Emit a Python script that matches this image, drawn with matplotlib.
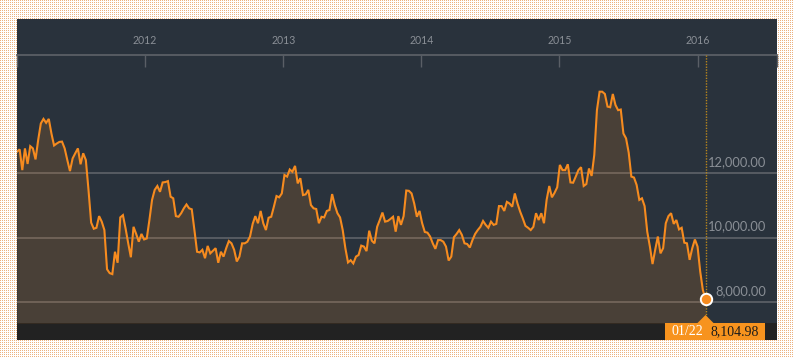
import matplotlib
matplotlib.use('Agg')
import matplotlib.pyplot as plt
import matplotlib.dates as mdates
import matplotlib.transforms as mtransforms
from matplotlib.patches import Rectangle, Polygon
import numpy as np
import pandas as pd

# Weekly closes (Fridays)
vals_2011 = [12650, 12720, 12080, 12750, 12270, 12820, 12750, 12410, 13010, 13520,
             13660, 13540, 13660, 13210, 12840, 12900, 12950, 12960, 12750, 12390,
             12050, 12440, 12600, 12750, 12260, 12600, 12390, 11470, 10460, 10270,
             10300, 10660, 10490, 10230, 9020, 8900, 8870, 9560, 9220, 10620,
             10690, 10280, 9820, 9390, 10330, 10110, 9870, 10110, 9940]
vals_2012 = [9970, 10540, 11160, 11470, 11590, 11410, 11700, 11710, 11740, 11260,
             11210, 10660, 10640, 10750, 10900, 11020, 10900, 10870, 10230, 9560,
             9540, 9620, 9360, 9740, 9510, 9590, 9670, 9220, 9560, 9410,
             9670, 9890, 9820, 9620, 9260, 9410, 9820, 9820, 9870, 10030,
             10420, 10660, 10440, 10820, 10440, 10230, 10610, 10640, 10950, 11280,
             11240, 11360]
vals_2013 = [11930, 11880, 12100, 12030, 12210, 11670, 11830, 11310, 11330, 11470,
             11000, 10900, 10880, 10440, 10640, 10620, 10820, 10850, 11340, 11000,
             10750, 10620, 10230, 9670, 9230, 9300, 9200, 9410, 9460, 9750,
             9720, 9580, 10210, 9900, 9820, 10330, 10540, 10770, 10490, 10510,
             10570, 10640, 10180, 10660, 10390, 10660, 11450, 11440, 11360, 11050,
             10640, 10820]
vals_2014 = [10440, 10170, 10150, 10030, 9820, 9650, 9920, 9920, 9870, 9720,
             9290, 9410, 10010, 10110, 10230, 10080, 9820, 9800, 9690, 9920,
             10110, 10230, 10330, 10510, 10390, 10300, 10490, 10390, 10420, 10970,
             10970, 10820, 11100, 11050, 10950, 11360, 11050, 10800, 10590, 10360,
             10300, 10230, 10330, 10750, 10540, 10750, 10440, 11160, 11590, 11240,
             11380, 11550]
vals_2015 = [12240, 12080, 12080, 12260, 11700, 11690, 11880, 12080, 12170, 11590,
             11650, 12130, 11900, 12550, 13930, 14500, 14500, 14430, 14040, 14020,
             14430, 14090, 13930, 13950, 13210, 13060, 12620, 11880, 11850, 11620,
             11160, 11210, 10970, 10180, 9720, 9180, 9620, 10030, 9510, 9670,
             10440, 10660, 10750, 10420, 10540, 10250, 10300, 9840, 9820, 9310,
             9670, 9940]
vals_2016 = [9720, 8950, 8380, 8104.98]

values = vals_2011 + vals_2012 + vals_2013 + vals_2014 + vals_2015 + vals_2016
dates = pd.date_range('2011-01-28', '2016-01-22', freq='W-FRI')

x_start = pd.Timestamp('2011-01-28')
x_end = pd.Timestamp('2016-07-29')
year_ticks = ['2012', '2013', '2014', '2015', '2016']
grid_levels = [8000, 10000, 12000]

# colours
bg = '#29323c'
orange = '#f68b1f'
grey_txt = '#8a8f96'
grid_col = '#5a5f66'

plt.rcParams['font.family'] = ['Lato', 'DejaVu Sans']

fig = plt.figure(figsize=(7.93, 3.58), dpi=100)
W, H = 793, 358

# dotted orange backdrop
tex = np.ones((H, W, 3))
tex[::2, ::2] = np.array([236, 178, 128]) / 255.0
fig.figimage(tex, 0, 0, zorder=-10)

# chart panel and bottom strip
fig.add_artist(Rectangle((17 / W, 18 / H), 760 / W, 321 / H, transform=fig.transFigure,
                         facecolor=bg, edgecolor='none', zorder=-5))
fig.add_artist(Rectangle((17 / W, 18 / H), 760 / W, 17 / H, transform=fig.transFigure,
                         facecolor='#222222', edgecolor='none', zorder=-4))

ax = fig.add_axes([17 / W, 35 / H, 760 / W, 268 / H])
ax.set_facecolor(bg)

ymin, ymax = 7361, 15633
ax.set_xlim(x_start, x_end)
ax.set_ylim(ymin, ymax)

# gridlines (under the fill so they tint brown inside it)
for lv in grid_levels:
    ax.axhline(lv, color=grid_col, linewidth=1.3, zorder=1)
    ax.annotate(f'{lv:,.2f}', xy=(0.9855, lv), xycoords=('axes fraction', 'data'),
                xytext=(0, 5), textcoords='offset points', ha='right', va='baseline',
                fontsize=9.3, color=grey_txt, zorder=6)

ax.fill_between(dates, values, ymin, color=orange, alpha=0.16, linewidth=0, zorder=2)
ax.plot(dates, values, color=orange, linewidth=1.5, zorder=3, solid_joinstyle='miter')

# marker line at latest value
last_d, last_v = dates[-1], values[-1]
ax.axvline(last_d, color='#b8861c', linewidth=1.0, linestyle=(0, (1, 1)), zorder=4)
ax.plot([last_d], [last_v], marker='o', markersize=8.2, markerfacecolor=orange,
        markeredgecolor='white', markeredgewidth=1.4, zorder=7, clip_on=False)

# top axis with year ticks
ticks = [x_start] + [pd.Timestamp(y + '-01-01') for y in year_ticks] + [x_end]
ax.set_xticks(ticks)
ax.set_xticklabels([''] + year_ticks + [''])
ax.xaxis.tick_top()
ax.tick_params(axis='x', direction='in', length=8.6, width=1.0, color=grid_col,
               labelcolor=grey_txt, labelsize=7.6, pad=6.5)
ax.set_yticks([])
for s in ['left', 'right', 'bottom']:
    ax.spines[s].set_visible(False)
ax.spines['top'].set_color(grid_col)
ax.spines['top'].set_linewidth(1.3)

# tooltip anchored at the latest date on the axes bottom
anchor = fig.dpi_scale_trans + mtransforms.ScaledTranslation(
    mdates.date2num(last_d), 0, ax.get_xaxis_transform())
ax.add_patch(Rectangle((-0.41, -0.172), 1.0, 0.175, transform=anchor,
                       facecolor='#f7931e', edgecolor='none', zorder=8, clip_on=False))
ax.add_patch(Polygon([(-0.08, 0.0), (0.0, 0.08), (0.08, 0.0)], closed=True, transform=anchor,
                     facecolor='#f7931e', edgecolor='none', zorder=8, clip_on=False))
ax.text(-0.18, -0.088, last_d.strftime('%m/%d'), transform=anchor, ha='center', va='center',
        fontsize=10, color='white', family='Liberation Serif', zorder=9, clip_on=False)
ax.text(0.29, -0.088, f'{last_v:,.2f}', transform=anchor, ha='center', va='center',
        fontsize=10, color='#1a1a1a', family='Liberation Serif', zorder=9, clip_on=False)

plt.savefig('out.png', dpi=100)
